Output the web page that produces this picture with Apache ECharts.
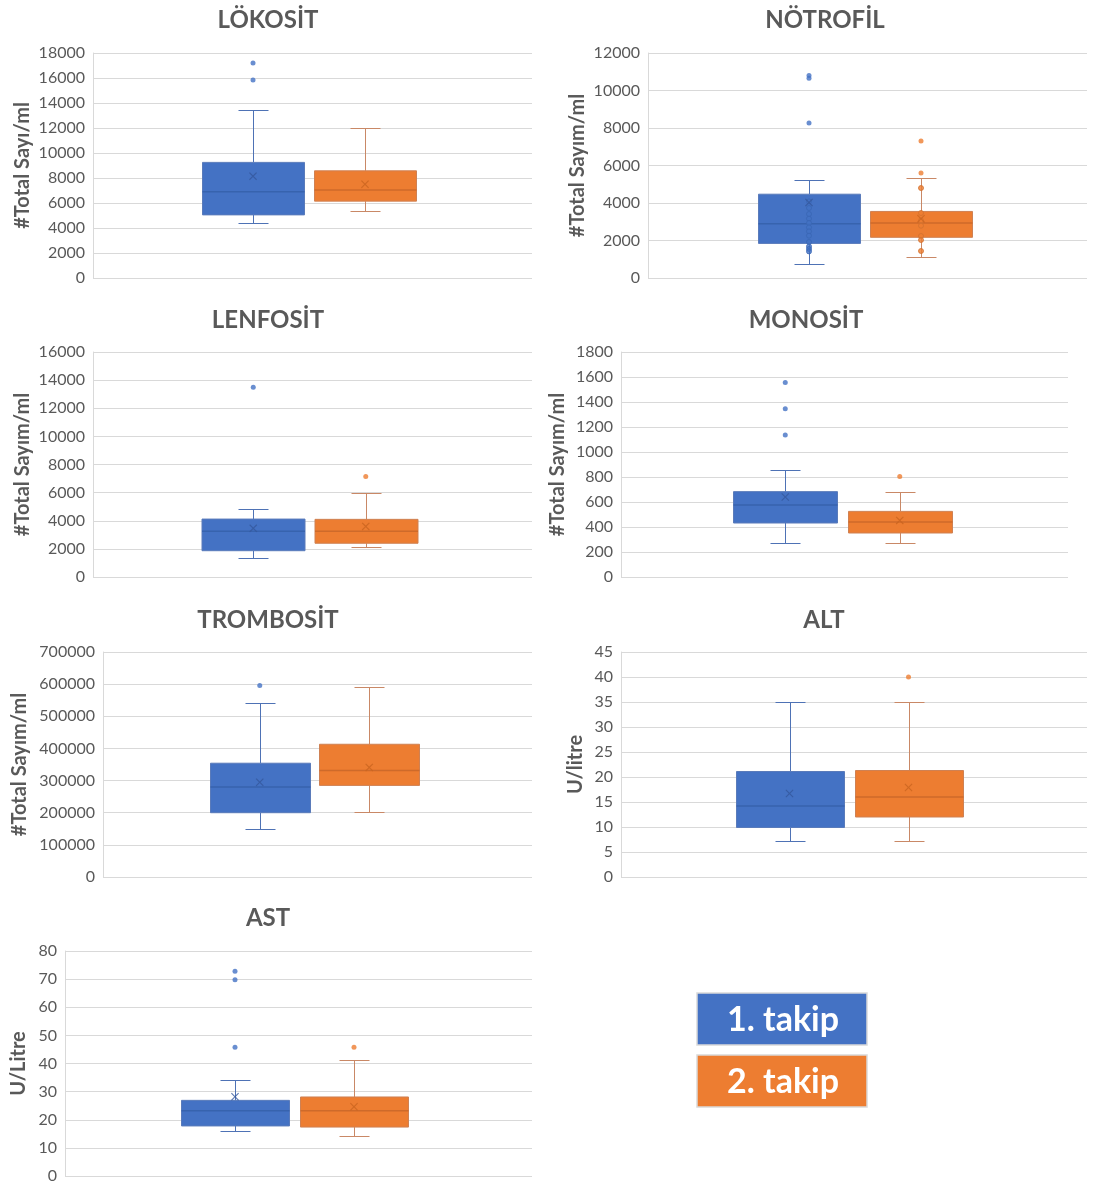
<!DOCTYPE html>
<html>
<head>
<meta charset="utf-8">
<title>Hemogram ve karaciğer enzimleri - takip karşılaştırması</title>
<script src="https://cdn.jsdelivr.net/npm/echarts@6/dist/echarts.min.js"></script>
<style>
  html, body { margin: 0; padding: 0; background: #ffffff; }
  #chart { width: 1093px; height: 1187px; }
</style>
</head>
<body>
<div id="chart"></div>
<script>
// Follow-up groups (boxes drawn left to right in every panel)
const groups = ['1. takip', '2. takip'];

// Panel titles and y-axis names
const panelTitles = ['LÖKOSİT', 'NÖTROFİL', 'LENFOSİT', 'MONOSİT', 'TROMBOSİT', 'ALT', 'AST'];
const yAxisNames = ['#Total Sayı/ml', '#Total Sayım/ml', '#Total Sayım/ml', '#Total Sayım/ml', '#Total Sayım/ml', 'U/litre', 'U/Litre'];

// Y-axis scale for each panel
const yMax = [18000, 12000, 16000, 1800, 700000, 45, 80];
const yStep = [2000, 2000, 2000, 200, 100000, 5, 10];

// Five-number summaries per group: [min, Q1, median, Q3, max]
const lokositBox = [[4380, 5050, 6900, 9250, 13450], [5400, 6150, 7050, 8575, 12000]];
const notrofilBox = [[730, 1845, 2890, 4470, 5240], [1135, 2170, 2930, 3550, 5340]];
const lenfositBox = [[1350, 1870, 3250, 4120, 4850], [2100, 2400, 3250, 4100, 6000]];
const monositBox = [[269, 432, 576, 683, 853], [269, 352, 440, 525, 683]];
const trombositBox = [[150000, 200000, 280000, 354000, 541000], [203000, 285000, 331000, 413000, 590000]];
const altBox = [[7.2, 9.9, 14.2, 21.1, 35], [7.2, 12, 16, 21.3, 35]];
const astBox = [[16.1, 17.8, 23.2, 26.9, 34], [14.1, 17.4, 23.2, 28.1, 41.1]];

// Group means
const lokositMean = [8150, 7500];
const notrofilMean = [4030, 3160];
const lenfositMean = [3460, 3600];
const monositMean = [640, 453];
const trombositMean = [295000, 341000];
const altMean = [16.7, 17.9];
const astMean = [28.2, 24.6];

// Outliers per group
const lokositOutliers = [[17200, 15850], []];
const notrofilOutliers = [[10800, 10650, 8270], [7310, 5600]];
const lenfositOutliers = [[13500], [7150]];
const monositOutliers = [[1557, 1347, 1136], [805]];
const trombositOutliers = [[596000], []];
const altOutliers = [[], [40]];
const astOutliers = [[72.8, 69.8, 45.8], [45.8]];

// Inner points shown for the neutrophil panel
const notrofilInner = [
  [4085, 3733, 3413, 3163, 2933, 2700, 2487, 2256, 1920, 1685, 1547, 1419],
  [4800, 3467, 3072, 2789, 2240, 2027, 1440]
];

const boxes = [lokositBox, notrofilBox, lenfositBox, monositBox, trombositBox, altBox, astBox];
const means = [lokositMean, notrofilMean, lenfositMean, monositMean, trombositMean, altMean, astMean];
const outliers = [lokositOutliers, notrofilOutliers, lenfositOutliers, monositOutliers, trombositOutliers, altOutliers, astOutliers];
const innerPoints = [null, notrofilInner, null, null, null, null, null];

// Page layout of each panel (pixels)
const layout = [
  { left: 93,  top: 53,  width: 439, titleX: 268, titleY: 20,  nameGap: 60, boxLeft: 197,   boxSpan: 224, boxW: 102 },
  { left: 648, top: 53,  width: 439, titleX: 825, titleY: 20,  nameGap: 60, boxLeft: 753,   boxSpan: 224, boxW: 102 },
  { left: 93,  top: 352, width: 439, titleX: 268, titleY: 320, nameGap: 60, boxLeft: 197,   boxSpan: 225, boxW: 103 },
  { left: 621, top: 352, width: 447, titleX: 806, titleY: 320, nameGap: 53, boxLeft: 728,   boxSpan: 229, boxW: 104 },
  { left: 103, top: 652, width: 429, titleX: 268, titleY: 620, nameGap: 73, boxLeft: 205,   boxSpan: 219, boxW: 100 },
  { left: 621, top: 652, width: 466, titleX: 824, titleY: 620, nameGap: 35, boxLeft: 730,   boxSpan: 238, boxW: 108 },
  { left: 65,  top: 951, width: 467, titleX: 268, titleY: 918, nameGap: 36, boxLeft: 175.5, boxSpan: 238, boxW: 108 }
];
const plotHeight = 225;

// Styling
const FONT = 'Lato, "Open Sans", sans-serif';
const TEXT_COLOR = '#595959';
const GRID_COLOR = '#D9D9D9';
const fillColors = ['#4472C4', '#ED7D31'];
const borderColors = ['#5A7BBA', '#CF8153'];
const medianColors = ['#3763AE', '#CE6A2A'];
const whiskerColors = ['#4E72B5', '#C98866'];
const meanColors = ['#34589C', '#C9641F'];
const innerBorderColors = ['#3A66B4', '#D2722F'];
const CROSS = 'path://M0,1L1,0L5,4L9,0L10,1L6,5L10,9L9,10L5,6L1,10L0,9L4,5Z';

function crisp(v) { return Math.round(v) + 0.5; }

// Box with whiskers, short caps and a median line
function makeBoxRenderer(boxW) {
  return function (params, api) {
    const g = api.value(0);
    const idx = params.dataIndex;
    const pMin = api.coord([g, api.value(1)]);
    const pQ1 = api.coord([g, api.value(2)]);
    const pMed = api.coord([g, api.value(3)]);
    const pQ3 = api.coord([g, api.value(4)]);
    const pMax = api.coord([g, api.value(5)]);
    const x = crisp(pMed[0]);
    const half = boxW / 2;
    const cap = 15;
    const wStyle = { stroke: whiskerColors[idx], lineWidth: 1 };
    return {
      type: 'group',
      children: [
        { type: 'line', shape: { x1: x, y1: pQ3[1], x2: x, y2: crisp(pMax[1]) }, style: wStyle },
        { type: 'line', shape: { x1: x, y1: pQ1[1], x2: x, y2: crisp(pMin[1]) }, style: wStyle },
        { type: 'line', shape: { x1: x - cap, y1: crisp(pMax[1]), x2: x + cap, y2: crisp(pMax[1]) }, style: wStyle },
        { type: 'line', shape: { x1: x - cap, y1: crisp(pMin[1]), x2: x + cap, y2: crisp(pMin[1]) }, style: wStyle },
        {
          type: 'rect',
          shape: { x: x - half, y: pQ3[1], width: boxW, height: pQ1[1] - pQ3[1] },
          style: { fill: fillColors[idx], stroke: borderColors[idx], lineWidth: 1 }
        },
        {
          type: 'line',
          shape: { x1: x - half, y1: pMed[1], x2: x + half, y2: pMed[1] },
          style: { stroke: medianColors[idx], lineWidth: 1.5 }
        }
      ]
    };
  };
}

const grids = [], xAxes = [], yAxes = [], series = [], titles = [];

panelTitles.forEach(function (title, i) {
  const L = layout[i];
  const gA = 2 * i, gB = 2 * i + 1;

  titles.push({
    text: title, left: L.titleX, top: L.titleY, padding: 0,
    textAlign: 'center', textVerticalAlign: 'middle',
    textStyle: { fontFamily: FONT, fontWeight: 'bold', fontSize: 24, color: TEXT_COLOR }
  });

  // plot frame: axis labels and gridlines
  grids.push({ left: L.left, top: L.top, width: L.width, height: plotHeight });
  // group positions inside the frame
  grids.push({ left: L.boxLeft, top: L.top, width: L.boxSpan, height: plotHeight });

  xAxes.push({ gridIndex: gA, type: 'category', data: [''], show: false });
  xAxes.push({ gridIndex: gB, type: 'category', data: groups, show: false });

  yAxes.push({
    gridIndex: gA, type: 'value', min: 0, max: yMax[i], interval: yStep[i],
    name: yAxisNames[i], nameLocation: 'middle', nameRotate: 90, nameGap: L.nameGap,
    nameTextStyle: { fontFamily: FONT, fontWeight: 'bold', fontSize: 20, color: TEXT_COLOR },
    axisLine: { show: true, lineStyle: { color: GRID_COLOR, width: 1 } },
    axisTick: { show: false },
    axisLabel: { margin: 8, color: TEXT_COLOR, fontSize: 16, fontFamily: FONT, formatter: function (v) { return String(v); } },
    splitLine: { show: true, lineStyle: { color: GRID_COLOR, width: 1 } }
  });
  yAxes.push({ gridIndex: gB, type: 'value', min: 0, max: yMax[i], show: false });

  series.push({
    type: 'custom',
    name: title,
    xAxisIndex: gB, yAxisIndex: gB,
    renderItem: makeBoxRenderer(L.boxW),
    encode: { x: 0, y: [1, 2, 3, 4, 5] },
    data: boxes[i].map(function (b, g) { return [g].concat(b); }),
    z: 2,
    silent: true
  });

  if (innerPoints[i]) {
    groups.forEach(function (name, g) {
      series.push({
        type: 'scatter', name: name, xAxisIndex: gB, yAxisIndex: gB,
        symbol: 'circle', symbolSize: 5,
        itemStyle: { color: fillColors[g], borderColor: innerBorderColors[g], borderWidth: 1 },
        data: innerPoints[i][g].map(function (v) { return [g, v]; }),
        z: 3, silent: true
      });
    });
  }

  groups.forEach(function (name, g) {
    series.push({
      type: 'scatter', name: name, xAxisIndex: gB, yAxisIndex: gB,
      symbol: 'circle', symbolSize: 5,
      itemStyle: { color: fillColors[g] },
      data: outliers[i][g].map(function (v) { return [g, v]; }),
      z: 4, silent: true
    });
  });

  series.push({
    type: 'scatter', name: 'ortalama', xAxisIndex: gB, yAxisIndex: gB,
    symbol: CROSS, symbolSize: 8,
    data: means[i].map(function (m, g) { return { value: [g, m], itemStyle: { color: meanColors[g] } }; }),
    z: 5, silent: true
  });
});

// Group key boxes in the lower right
const legendGraphic = groups.map(function (name, g) {
  return {
    type: 'group', x: 697, y: 993 + g * 62,
    children: [
      { type: 'rect', shape: { x: 0, y: 0, width: 170, height: 52 }, style: { fill: fillColors[g], stroke: '#D9D9D9', lineWidth: 1.5 } },
      { type: 'text', x: 86, y: 27, style: { text: name, fill: '#ffffff', font: 'bold 34px ' + FONT, align: 'center', verticalAlign: 'middle' } }
    ]
  };
});

const chart = echarts.init(document.getElementById('chart'), null, { renderer: 'canvas' });
chart.setOption({
  backgroundColor: '#ffffff',
  animation: false,
  title: titles,
  grid: grids,
  xAxis: xAxes,
  yAxis: yAxes,
  series: series,
  graphic: legendGraphic
});
</script>
</body>
</html>
